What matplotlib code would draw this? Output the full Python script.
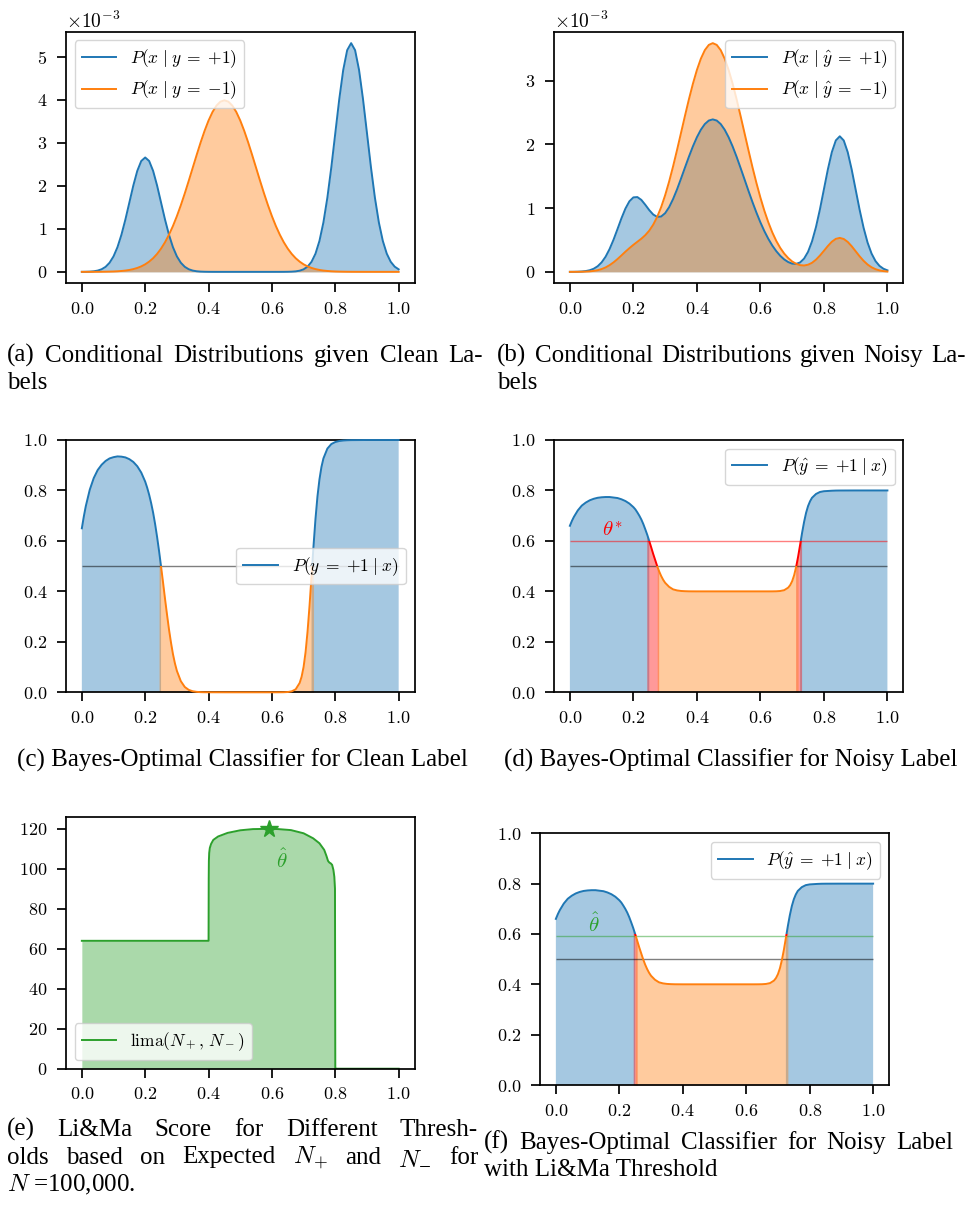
import numpy as np
import matplotlib
matplotlib.use("Agg")
import matplotlib.pyplot as plt
from matplotlib.patches import Rectangle
from matplotlib.lines import Line2D
from matplotlib.ticker import MultipleLocator

# ---------------- data ----------------
# sample positions for the class-conditional densities
x_dens = [0.0, 0.0125, 0.025, 0.0375, 0.05, 0.0625, 0.075, 0.0875, 0.1, 0.1125,
          0.125, 0.1375, 0.15, 0.1625, 0.175, 0.1875, 0.2, 0.2125, 0.225, 0.2375,
          0.25, 0.2625, 0.275, 0.2875, 0.3, 0.3125, 0.325, 0.3375, 0.35, 0.3625,
          0.375, 0.3875, 0.4, 0.4125, 0.425, 0.4375, 0.45, 0.4625, 0.475, 0.4875,
          0.5, 0.5125, 0.525, 0.5375, 0.55, 0.5625, 0.575, 0.5875, 0.6, 0.6125,
          0.625, 0.6375, 0.65, 0.6625, 0.675, 0.6875, 0.7, 0.7125, 0.725, 0.7375,
          0.75, 0.7625, 0.775, 0.7875, 0.8, 0.8125, 0.825, 0.8375, 0.85, 0.8625,
          0.875, 0.8875, 0.9, 0.9125, 0.925, 0.9375, 0.95, 0.9625, 0.975, 0.9875, 1.0]

# densities in units of 1e-3
p_x_clean_pos = [0.0009, 0.0024, 0.0058, 0.0136, 0.0296, 0.0607, 0.117, 0.212, 0.360, 0.575,
                 0.864, 1.218, 1.613, 2.008, 2.348, 2.578, 2.660, 2.578, 2.348, 2.008,
                 1.613, 1.218, 0.864, 0.575, 0.360, 0.212, 0.117, 0.0607, 0.0296, 0.0136,
                 0.0058, 0.0024, 0.0009, 0.0003, 0.0001, 0.0, 0.0, 0.0, 0.0, 0.0,
                 0.0, 0.0, 0.0, 0.0, 0.0, 0.0, 0.0, 0.0, 0.0, 0.0001,
                 0.0002, 0.0006, 0.0018, 0.0047, 0.0116, 0.0272, 0.0591, 0.121, 0.234, 0.423,
                 0.720, 1.150, 1.727, 2.435, 3.226, 4.015, 4.694, 5.155, 5.319, 5.155,
                 4.694, 4.015, 3.226, 2.435, 1.727, 1.150, 0.720, 0.423, 0.234, 0.121, 0.059]
p_x_clean_neg = [0.0002, 0.0003, 0.0005, 0.0008, 0.0013, 0.0022, 0.0036, 0.0056, 0.0087, 0.0134,
                 0.0204, 0.0302, 0.0443, 0.0640, 0.0910, 0.127, 0.175, 0.238, 0.317, 0.417,
                 0.540, 0.688, 0.863, 1.065, 1.295, 1.550, 1.826, 2.119, 2.420, 2.720,
                 3.011, 3.281, 3.520, 3.718, 3.866, 3.958, 3.989, 3.958, 3.866, 3.718,
                 3.520, 3.281, 3.011, 2.720, 2.420, 2.119, 1.826, 1.550, 1.295, 1.065,
                 0.863, 0.688, 0.540, 0.417, 0.317, 0.238, 0.175, 0.127, 0.0910, 0.0640,
                 0.0443, 0.0302, 0.0204, 0.0134, 0.0087, 0.0056, 0.0036, 0.0022, 0.0013, 0.0008,
                 0.0005, 0.0003, 0.0002, 0.0001, 0.0, 0.0, 0.0, 0.0, 0.0, 0.0, 0.0]
p_x_noisy_pos = [0.0005, 0.0011, 0.0026, 0.0059, 0.0126, 0.0256, 0.0489, 0.0881, 0.149, 0.238,
                 0.358, 0.505, 0.672, 0.842, 0.994, 1.108, 1.169, 1.174, 1.130, 1.053,
                 0.969, 0.900, 0.863, 0.869, 0.921, 1.015, 1.143, 1.295, 1.464, 1.638,
                 1.809, 1.970, 2.113, 2.231, 2.320, 2.375, 2.393, 2.375, 2.320, 2.231,
                 2.112, 1.969, 1.807, 1.632, 1.452, 1.271, 1.096, 0.930, 0.777, 0.639,
                 0.518, 0.413, 0.325, 0.252, 0.195, 0.154, 0.129, 0.125, 0.148, 0.208,
                 0.314, 0.478, 0.703, 0.982, 1.296, 1.609, 1.880, 2.063, 2.128, 2.062,
                 1.878, 1.606, 1.290, 0.974, 0.691, 0.460, 0.288, 0.169, 0.094, 0.049, 0.024]
p_x_noisy_neg = [0.0002, 0.0005, 0.0010, 0.0021, 0.0042, 0.0080, 0.0149, 0.0262, 0.0439, 0.0696,
                 0.105, 0.149, 0.201, 0.258, 0.317, 0.372, 0.424, 0.472, 0.520, 0.576,
                 0.647, 0.741, 0.863, 1.016, 1.202, 1.416, 1.655, 1.913, 2.181, 2.450,
                 2.711, 2.953, 3.168, 3.346, 3.480, 3.562, 3.590, 3.562, 3.480, 3.346,
                 3.168, 2.953, 2.710, 2.448, 2.178, 1.907, 1.643, 1.395, 1.166, 0.959,
                 0.777, 0.619, 0.486, 0.376, 0.287, 0.217, 0.163, 0.127, 0.105, 0.100,
                 0.112, 0.142, 0.191, 0.256, 0.330, 0.406, 0.473, 0.518, 0.533, 0.516,
                 0.470, 0.402, 0.323, 0.244, 0.173, 0.115, 0.072, 0.042, 0.023, 0.012, 0.006]

# sample positions for the posteriors
x_post = [0.0, 0.00625, 0.0125, 0.025, 0.0375, 0.05, 0.0625, 0.075, 0.0875, 0.1,
          0.1125, 0.125, 0.1375, 0.15, 0.1625, 0.175, 0.1875, 0.2, 0.20625, 0.2125,
          0.21875, 0.225, 0.23125, 0.2375, 0.24375, 0.25, 0.25625, 0.2625, 0.26875, 0.275,
          0.28125, 0.2875, 0.29375, 0.3, 0.3125, 0.325, 0.3375, 0.35, 0.3625, 0.375,
          0.3875, 0.4, 0.45, 0.5, 0.55, 0.6, 0.625, 0.6375, 0.65, 0.6625,
          0.675, 0.6875, 0.69375, 0.7, 0.70625, 0.7125, 0.71875, 0.725, 0.73125, 0.7375,
          0.74375, 0.75, 0.75625, 0.7625, 0.775, 0.7875, 0.8, 0.8125, 0.825, 0.8375,
          0.85, 0.9, 0.95, 1.0]
p_pos_clean = [0.650, 0.697, 0.738, 0.803, 0.849, 0.881, 0.902, 0.917, 0.927, 0.932,
               0.935, 0.934, 0.931, 0.924, 0.913, 0.896, 0.871, 0.835, 0.811, 0.783,
               0.750, 0.712, 0.667, 0.616, 0.560, 0.499, 0.436, 0.371, 0.309, 0.250,
               0.198, 0.152, 0.115, 0.085, 0.044, 0.021, 0.0095, 0.0041, 0.0017, 0.0006,
               0.0002, 0.0001, 0.0, 0.0, 0.0, 0.0, 0.0001, 0.0003, 0.0011, 0.0038,
               0.012, 0.037, 0.062, 0.101, 0.160, 0.242, 0.344, 0.461, 0.580, 0.688,
               0.777, 0.844, 0.893, 0.927, 0.966, 0.984, 0.992, 0.996, 0.998, 0.999,
               0.9995, 1.0, 1.0, 1.0]
p_pos_noisy = [0.660, 0.679, 0.695, 0.721, 0.740, 0.752, 0.761, 0.767, 0.771, 0.773,
               0.774, 0.774, 0.772, 0.770, 0.765, 0.758, 0.748, 0.734, 0.725, 0.713,
               0.700, 0.685, 0.667, 0.646, 0.624, 0.5996, 0.574, 0.548, 0.524, 0.500,
               0.479, 0.461, 0.446, 0.434, 0.418, 0.408, 0.4038, 0.4016, 0.4007, 0.4002,
               0.4001, 0.4, 0.4, 0.4, 0.4, 0.4, 0.4, 0.4001, 0.4004, 0.4015,
               0.4048, 0.4148, 0.4248, 0.4404, 0.464, 0.4968, 0.5376, 0.5844, 0.632, 0.675,
               0.711, 0.738, 0.757, 0.771, 0.786, 0.794, 0.797, 0.798, 0.799, 0.7996,
               0.7998, 0.8, 0.8, 0.8]

# Li&Ma score versus threshold
theta_grid = [0.0, 0.1, 0.2, 0.3, 0.4, 0.4005, 0.401, 0.402, 0.404, 0.408,
              0.415, 0.43, 0.46, 0.50, 0.54, 0.58, 0.59, 0.62, 0.66, 0.70,
              0.73, 0.75, 0.765, 0.772, 0.777, 0.781, 0.786, 0.790, 0.794, 0.797,
              0.799, 0.8, 0.801, 0.9, 1.0]
lima_score = [64, 64, 64, 64, 64, 95, 104, 108, 110.5, 112.5,
              114.5, 116.2, 118, 119.3, 119.9, 120.0, 120.1, 119.9, 119.4, 117.8,
              115.3, 112.8, 109.5, 106.5, 104, 103.2, 102.7, 102.0, 99.5, 96,
              90, 0, 0, 0, 0]

bayes_threshold = 0.5
theta_star = 0.6

captions = {
    "a": ["(a) Conditional Distributions given Clean La-", "bels"],
    "b": ["(b) Conditional Distributions given Noisy La-", "bels"],
    "c": ["(c) Bayes-Optimal Classifier for Clean Label"],
    "d": ["(d) Bayes-Optimal Classifier for Noisy Label"],
    "e": ["(e) Li&Ma Score for Different Thresh-",
          r"olds based on Expected $N_{+}$ and $N_{\minus}$ for",
          "$N$ =100,000."],
    "f": ["(f) Bayes-Optimal Classifier for Noisy Label", "with Li&Ma Threshold"],
}

for arr in (p_x_clean_pos, p_x_clean_neg, p_x_noisy_pos, p_x_noisy_neg):
    assert len(arr) == len(x_dens), len(arr)
assert len(p_pos_clean) == len(x_post) == len(p_pos_noisy)
assert len(theta_grid) == len(lima_score)

# ---------------- style ----------------
plt.rcParams.update({
    "font.family": "serif",
    "font.serif": ["cmr10"],
    "mathtext.fontset": "cm",
    "axes.formatter.use_mathtext": True,
    "font.size": 13,
    "axes.linewidth": 1.25,
    "xtick.major.width": 1.25,
    "ytick.major.width": 1.25,
    "xtick.major.size": 6.3,
    "ytick.major.size": 6.3,
    "xtick.major.pad": 6.5,
    "ytick.major.pad": 7,
    "xtick.labelsize": 13,
    "ytick.labelsize": 13,
    "legend.fontsize": 12.5,
})

W, H = 971, 1214
fig = plt.figure(figsize=(W / 100, H / 100), dpi=100)

C0, C1, C2, RED = "#1f77b4", "#ff7f0e", "#2ca02c", "red"
LW = 1.4
FA = 0.4


def ax_at(left, top, right, bottom):
    return fig.add_axes([left / W, 1 - bottom / H, (right - left) / W, (bottom - top) / H])


def dilate(m):
    d = m.copy()
    d[1:] |= m[:-1]
    d[:-1] |= m[1:]
    return d


def banded_line(ax, x, y, bands):
    for lo, hi, c in bands:
        ln, = ax.plot(x, y, color=c, lw=LW, zorder=4)
        rect = Rectangle((-1, lo), 3, hi - lo, transform=ax.transData)
        ln.set_clip_path(rect)


def handle(c):
    return Line2D([], [], color=c, lw=LW)


def sci_axis(ax):
    ax.ticklabel_format(axis="y", style="sci", scilimits=(0, 0))
    ax.yaxis.get_offset_text().set_fontsize(14)


xd = np.array(x_dens)
xp = np.array(x_post)

# ---- (a) ----
ax = ax_at(66, 31.7, 414.5, 283.3)
ya = np.array(p_x_clean_pos) * 1e-3
yb = np.array(p_x_clean_neg) * 1e-3
ax.fill_between(xd, 0, ya, color=C0, alpha=FA, lw=0)
ax.fill_between(xd, 0, yb, color=C1, alpha=FA, lw=0)
ax.plot(xd, ya, color=C0, lw=LW, label=r"$P(x\;|\;y\;=\;{+}1)$")
ax.plot(xd, yb, color=C1, lw=LW, label=r"$P(x\;|\;y\;=\;{-}1)$")
top = max(ya.max(), yb.max())
ax.set_ylim(-0.05 * top, 1.05 * top)
sci_axis(ax)
ax.legend(loc="upper left")

# ---- (b) ----
ax = ax_at(554, 31.7, 903.3, 283.3)
ya = np.array(p_x_noisy_pos) * 1e-3
yb = np.array(p_x_noisy_neg) * 1e-3
ax.fill_between(xd, 0, ya, color=C0, alpha=FA, lw=0)
ax.fill_between(xd, 0, yb, color=C1, alpha=FA, lw=0)
ax.plot(xd, ya, color=C0, lw=LW, label=r"$P(x\;|\;\hat{y}\;=\;{+}1)$")
ax.plot(xd, yb, color=C1, lw=LW, label=r"$P(x\;|\;\hat{y}\;=\;{-}1)$")
top = max(ya.max(), yb.max())
ax.set_ylim(-0.05 * top, 1.05 * top)
sci_axis(ax)
ax.legend(loc="upper right")

# ---- (c) ----
ax = ax_at(66, 440, 414.5, 692.3)
yc = np.array(p_pos_clean)
m_pos = yc >= bayes_threshold
ax.fill_between(xp, 0, yc, where=dilate(m_pos), color=C0, alpha=FA, lw=0)
ax.fill_between(xp, 0, yc, where=dilate(~m_pos), color=C1, alpha=FA, lw=0)
ax.hlines(bayes_threshold, 0, 1, color="black", alpha=0.5, lw=1.0, zorder=3)
banded_line(ax, xp, yc, [(bayes_threshold, 2, C0), (-1, bayes_threshold, C1)])
ax.set_ylim(0, 1)
ax.legend([handle(C0)], [r"$P(y\;=\;{+}1\;|\;x)$"], loc="center right")

# ---- (d) ----
ax = ax_at(554, 440, 903.3, 692.3)
yq = np.array(p_pos_noisy)
m_b = yq >= theta_star
m_r = (yq < theta_star) & (yq >= bayes_threshold)
m_o = yq < bayes_threshold
ax.fill_between(xp, 0, yq, where=dilate(m_b), color=C0, alpha=FA, lw=0)
ax.fill_between(xp, 0, yq, where=dilate(m_r), color=RED, alpha=FA, lw=0)
ax.fill_between(xp, 0, yq, where=dilate(m_o), color=C1, alpha=FA, lw=0)
ax.hlines(bayes_threshold, 0, 1, color="black", alpha=0.5, lw=1.0, zorder=3)
ax.hlines(theta_star, 0, 1, color=RED, alpha=0.5, lw=1.0, zorder=3)
banded_line(ax, xp, yq, [(theta_star, 2, C0), (bayes_threshold, theta_star, RED),
                         (-1, bayes_threshold, C1)])
ax.text(0.10, theta_star + 0.002, r"$\theta^{*}$", color=RED, fontsize=15,
        ha="left", va="bottom")
ax.set_ylim(0, 1)
ax.legend([handle(C0)], [r"$P(\hat{y}\;=\;{+}1\;|\;x)$"], loc="upper right")

# ---- (e) ----
ax = ax_at(66, 816.7, 414.5, 1068.7)
th = np.array(theta_grid)
ls = np.array(lima_score, dtype=float)
k = int(np.argmax(ls))
theta_hat = th[k]
ax.fill_between(th, 0, ls, color=C2, alpha=FA, lw=0)
ax.plot(th, ls, color=C2, lw=LW, label=r"$\mathrm{lima}(N_+,\, N_-)$")
ax.plot([theta_hat], [ls[k]], marker="*", ms=13, color=C2, zorder=5)
ax.text(theta_hat + 0.042, ls[k] - 15.5, r"$\hat{\theta}$", color=C2, fontsize=15,
        ha="center", va="center")
ax.set_ylim(0, 1.05 * ls.max())
ax.yaxis.set_major_locator(MultipleLocator(20))
ax.legend(loc="lower left")

# ---- (f) ----
ax = ax_at(540, 833.3, 889, 1085)
m_b = yq >= theta_star
m_r = (yq < theta_star) & (yq >= theta_hat)
m_o = yq < theta_hat
ax.fill_between(xp, 0, yq, where=dilate(m_b), color=C0, alpha=FA, lw=0)
ax.fill_between(xp, 0, yq, where=dilate(m_r), color=RED, alpha=FA, lw=0)
ax.fill_between(xp, 0, yq, where=dilate(m_o), color=C1, alpha=FA, lw=0)
ax.hlines(bayes_threshold, 0, 1, color="black", alpha=0.5, lw=1.0, zorder=3)
ax.hlines(theta_hat, 0, 1, color=C2, alpha=0.5, lw=1.0, zorder=3)
banded_line(ax, xp, yq, [(theta_star, 2, C0), (theta_hat, theta_star, RED),
                         (-1, theta_hat, C1)])
ax.text(0.10, theta_hat + 0.002, r"$\hat{\theta}$", color=C2, fontsize=15,
        ha="left", va="bottom")
ax.set_ylim(0, 1)
ax.legend([handle(C0)], [r"$P(\hat{y}\;=\;{+}1\;|\;x)$"], loc="upper right")

# ---------------- captions ----------------
cap_kw = dict(family=["Liberation Serif", "DejaVu Serif"], fontsize=18, color="black")
renderer = fig.canvas.get_renderer()


def caption(lines, x0, x1, base, gap, justify, center=False):
    for i, line in enumerate(lines):
        y = 1 - (base + i * gap) / H
        if center:
            fig.text((x0 + x1) / 2 / W, y, line, ha="center", va="baseline", **cap_kw)
            continue
        if not justify[i]:
            fig.text(x0 / W, y, line, ha="left", va="baseline", **cap_kw)
            continue
        words = line.split(" ")
        objs = [fig.text(0, y, w, ha="left", va="baseline", **cap_kw) for w in words]
        widths = [o.get_window_extent(renderer=renderer).width for o in objs]
        sp = ((x1 - x0) - sum(widths)) / (len(words) - 1)
        pos = x0
        for o, w in zip(objs, widths):
            o.set_x(pos / W)
            pos += w + sp


caption(captions["a"], 7, 483, 362, 27, [True, False])
caption(captions["b"], 497, 966, 362, 27, [True, False])
caption(captions["c"], 15, 470, 767, 27, [False], center=True)
caption(captions["d"], 503, 958, 767, 27, [False], center=True)
caption(captions["e"], 7, 478, 1136, 27.5, [True, True, False])
caption(captions["f"], 484, 953, 1149, 27, [True, False])

fig.savefig("out.png", dpi=100)
